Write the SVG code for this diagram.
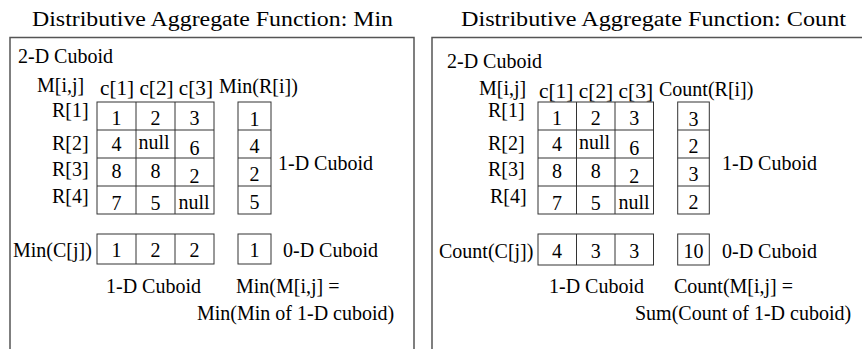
<svg xmlns="http://www.w3.org/2000/svg" width="862" height="349" viewBox="0 0 862 349" font-family="'Liberation Serif', 'DejaVu Serif', serif" font-size="20">
<style>
text{font-family:'Liberation Serif','DejaVu Serif',serif;font-size:20px;fill:#000}
.m{text-anchor:middle}
.panel{fill:none;stroke:#555;stroke-width:1.5}
.cell{fill:#fff;stroke:#333;stroke-width:1}
.ln{stroke:#333;stroke-width:1}
</style>
<rect width="862" height="349" fill="#fff"/>

<g id="panel-min">
<text x="32" y="26" textLength="361" lengthAdjust="spacingAndGlyphs">Distributive Aggregate Function: Min</text>
<rect class="panel" x="10" y="37.5" width="404" height="330"/>
<text x="18" y="63">2-D Cuboid</text>
<text x="37" y="92">M[i,j]</text>
<text x="100" y="95" textLength="113" lengthAdjust="spacingAndGlyphs">c[1] c[2] c[3]</text>
<text x="219" y="93">Min(R[i])</text>
<text x="52" y="117">R[1]</text>
<text x="52" y="150">R[2]</text>
<text x="52" y="176">R[3]</text>
<text x="52" y="203">R[4]</text>
</g>

<g id="grid-min">
<rect class="cell" x="97" y="102" width="117" height="112"/>
<line class="ln" x1="136" y1="102" x2="136" y2="214"/>
<line class="ln" x1="175" y1="102" x2="175" y2="214"/>
<line class="ln" x1="97" y1="130" x2="214" y2="130"/>
<line class="ln" x1="97" y1="158" x2="214" y2="158"/>
<line class="ln" x1="97" y1="186" x2="214" y2="186"/>
<text class="m" x="116.5" y="125">1</text><text class="m" x="155.5" y="125">2</text><text class="m" x="194.5" y="125">3</text>
<text class="m" x="116.5" y="151">4</text><text class="m" x="154" y="149">null</text><text class="m" x="194.5" y="155">6</text>
<text class="m" x="116.5" y="178">8</text><text class="m" x="155.5" y="178">8</text><text class="m" x="194.5" y="183">2</text>
<text class="m" x="116.5" y="210">7</text><text class="m" x="155.5" y="210">5</text><text class="m" x="194" y="209">null</text>
</g>

<g id="rowagg-min">
<rect class="cell" x="238" y="102" width="33" height="112"/>
<line class="ln" x1="238" y1="130" x2="271" y2="130"/>
<line class="ln" x1="238" y1="158" x2="271" y2="158"/>
<line class="ln" x1="238" y1="186" x2="271" y2="186"/>
<text class="m" x="254.5" y="126">1</text>
<text class="m" x="254.5" y="153">4</text>
<text class="m" x="254.5" y="181">2</text>
<text class="m" x="254.5" y="209">5</text>
<text x="278" y="170">1-D Cuboid</text>
</g>

<g id="colagg-min">
<text x="13" y="257">Min(C[j])</text>
<rect class="cell" x="97" y="234" width="117" height="30"/>
<line class="ln" x1="136" y1="234" x2="136" y2="264"/>
<line class="ln" x1="175" y1="234" x2="175" y2="264"/>
<text class="m" x="116.5" y="257">1</text><text class="m" x="155.5" y="257">2</text><text class="m" x="194.5" y="257">2</text>
<text x="106" y="293">1-D Cuboid</text>
</g>

<g id="total-min">
<rect class="cell" x="238" y="234" width="33" height="30"/>
<text class="m" x="254.5" y="257">1</text>
<text x="283" y="257">0-D Cuboid</text>
<text x="236" y="293">Min(M[i,j] =</text>
<text x="197" y="320">Min(Min of 1-D cuboid)</text>
</g>

<g id="panel-count">
<text x="461" y="26" textLength="385" lengthAdjust="spacingAndGlyphs">Distributive Aggregate Function: Count</text>
<rect class="panel" x="432" y="37.5" width="440" height="330"/>
<text x="447" y="68">2-D Cuboid</text>
<text x="479" y="95">M[i,j]</text>
<text x="539" y="98" textLength="114" lengthAdjust="spacingAndGlyphs">c[1] c[2] c[3]</text>
<text x="659" y="96">Count(R[i])</text>
<text x="488" y="117">R[1]</text>
<text x="488" y="150">R[2]</text>
<text x="488" y="176">R[3]</text>
<text x="490" y="203">R[4]</text>
</g>

<g id="grid-count">
<rect class="cell" x="538" y="102" width="115.5" height="112"/>
<line class="ln" x1="576.5" y1="102" x2="576.5" y2="214"/>
<line class="ln" x1="615" y1="102" x2="615" y2="214"/>
<line class="ln" x1="538" y1="130" x2="653.5" y2="130"/>
<line class="ln" x1="538" y1="158" x2="653.5" y2="158"/>
<line class="ln" x1="538" y1="186" x2="653.5" y2="186"/>
<text class="m" x="557" y="125">1</text><text class="m" x="595.7" y="125">2</text><text class="m" x="634.2" y="125">3</text>
<text class="m" x="557" y="151">4</text><text class="m" x="594.5" y="149">null</text><text class="m" x="634.2" y="155">6</text>
<text class="m" x="557" y="178">8</text><text class="m" x="595.7" y="178">8</text><text class="m" x="634.2" y="183">2</text>
<text class="m" x="557" y="210">7</text><text class="m" x="595.7" y="210">5</text><text class="m" x="634" y="209">null</text>
</g>

<g id="rowagg-count">
<rect class="cell" x="677.7" y="102" width="31.6" height="112"/>
<line class="ln" x1="677.7" y1="130" x2="709.3" y2="130"/>
<line class="ln" x1="677.7" y1="158" x2="709.3" y2="158"/>
<line class="ln" x1="677.7" y1="186" x2="709.3" y2="186"/>
<text class="m" x="693.5" y="126">3</text>
<text class="m" x="693.5" y="153">2</text>
<text class="m" x="693.5" y="181">3</text>
<text class="m" x="693.5" y="209">2</text>
<text x="722" y="170">1-D Cuboid</text>
</g>

<g id="colagg-count">
<text x="439" y="258">Count(C[j])</text>
<rect class="cell" x="538" y="234" width="115.5" height="31"/>
<line class="ln" x1="576.5" y1="234" x2="576.5" y2="265"/>
<line class="ln" x1="615" y1="234" x2="615" y2="265"/>
<text class="m" x="557" y="258">4</text><text class="m" x="595.7" y="258">3</text><text class="m" x="634.2" y="258">3</text>
<text x="549" y="293">1-D Cuboid</text>
</g>

<g id="total-count">
<rect class="cell" x="677.7" y="234" width="31.6" height="31"/>
<text class="m" x="693.5" y="258">10</text>
<text x="722" y="258">0-D Cuboid</text>
<text x="674" y="293">Count(M[i,j] =</text>
<text x="635" y="320">Sum(Count of 1-D cuboid)</text>
</g>

<g id="connectors"></g>
</svg>
